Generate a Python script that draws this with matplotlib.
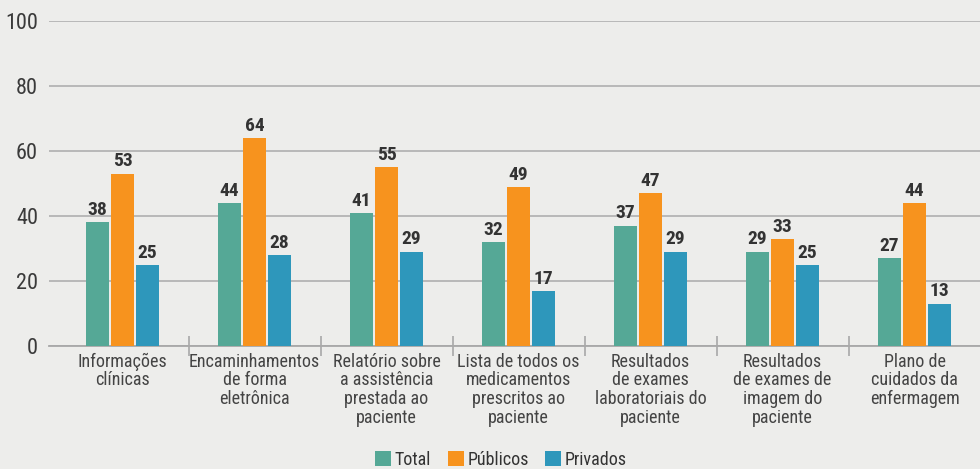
import matplotlib
matplotlib.use('Agg')
import matplotlib.pyplot as plt
import numpy as np
from matplotlib import font_manager
from matplotlib.patches import Patch

# pick a narrow font if one is there
names = set(f.name for f in font_manager.fontManager.ttflist)
font = 'DejaVu Sans'
for cand in ['Liberation Sans Narrow', 'Roboto Condensed', 'Open Sans Condensed', 'Roboto']:
    if cand in names:
        font = cand
        break
plt.rcParams['font.family'] = [font, 'DejaVu Sans']

categories = ['Informações\nclínicas',
              'Encaminhamentos\nde forma\neletrônica',
              'Relatório sobre\na assistência\nprestada ao\npaciente',
              'Lista de todos os\nmedicamentos\nprescritos ao\npaciente',
              'Resultados\nde exames\nlaboratoriais do\npaciente',
              'Resultados\nde exames de\nimagem do\npaciente',
              'Plano de\ncuidados da\nenfermagem']
total = [38, 44, 41, 32, 37, 29, 27]
publicos = [53, 64, 55, 49, 47, 33, 44]
privados = [25, 28, 29, 17, 29, 25, 13]
series_names = ['Total', 'Públicos', 'Privados']
colors = ['#55a896', '#f7931e', '#2e97bb']
bg = '#ededeb'

fig = plt.figure(figsize=(9.8, 4.69), dpi=100, facecolor=bg)
ax = fig.add_axes([49/980, 123/469, 931/980, 325/469], facecolor=bg)

x = np.arange(len(categories))
w = 0.174
off = 0.19
for k, vals in enumerate([total, publicos, privados]):
    bars = ax.bar(x + (k - 1) * off, vals, width=w, color=colors[k], zorder=3)
    for b, v in zip(bars, vals):
        ax.text(b.get_x() + b.get_width()/2, v + 1, str(v), ha='center', va='bottom',
                fontsize=14, fontweight='bold', color='#333333', zorder=4)

ax.set_ylim(0, 100)
ax.set_xlim(-73.5/132, 6 + 65.5/132)
ax.set_yticks([0, 20, 40, 60, 80, 100])
ax.yaxis.grid(True, color='#b4b4b4', linewidth=1.3, zorder=0)
ax.tick_params(axis='y', length=0, pad=8, labelsize=16, labelcolor='#3a3a3a')
for s in ['top', 'right', 'left']:
    ax.spines[s].set_visible(False)
ax.spines['bottom'].set_color('#a8a8a8')
ax.spines['bottom'].set_linewidth(1.3)

# separators between groups
ax.set_xticks(x[:-1] + 0.5)
ax.set_xticklabels([])
ax.tick_params(axis='x', direction='inout', length=14, width=1.2, color='#a8a8a8')

for i, c in enumerate(categories):
    ax.text(i, -2, c, ha='center', va='top', fontsize=13, color='#444444',
            linespacing=1.05, transform=ax.transData)

handles = [Patch(facecolor=colors[k], label=series_names[k]) for k in range(3)]
fig.legend(handles=handles, loc='center', bbox_to_anchor=(501/980, 9/469), ncol=3,
           frameon=False, fontsize=13, handlelength=0.9, handleheight=0.9,
           handletextpad=0.2, columnspacing=0.9, labelcolor='#333333')

plt.savefig('out.png', dpi=100, facecolor=bg)
